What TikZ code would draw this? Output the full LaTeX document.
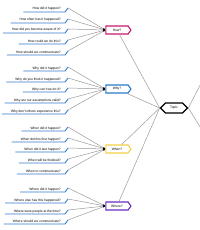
\documentclass[tikz,border=0pt]{standalone}
\usepackage{fontspec}
\setmainfont{Liberation Sans}
\usetikzlibrary{arrows.meta,calc,shapes.symbols}
\definecolor{ulblue}{HTML}{2F7BD0}
\definecolor{howred}{HTML}{C8196E}
\definecolor{whyblue}{HTML}{2A78C8}
\definecolor{whenyellow}{HTML}{F0D247}
\definecolor{wherepurple}{HTML}{6A2DC2}
\definecolor{linegray}{HTML}{9A9A9A}

\begin{document}
\begin{tikzpicture}[
  x=1pt, y=-1pt,
  font=\fontsize{3.3}{4}\selectfont, >=Latex,
  leaf/.style={inner sep=0pt, anchor=base east},
  uline/.style={draw=ulblue, line width=0.9pt},
  fan/.style={draw=linegray, line width=0.5pt,
              -{Latex[black,length=2.2pt,width=2pt]}},
  link/.style={draw=linegray, line width=0.5pt},
  cat/.style={signal, signal to=east, signal pointer angle=110,
              draw=#1, line width=1.1pt, fill=white,
              minimum width=25pt, minimum height=8pt, inner sep=0pt},
  topicbox/.style={signal, signal to=east and west, signal pointer angle=90,
              draw=black, line width=1.2pt, fill=white,
              minimum width=27pt, minimum height=10pt, inner sep=0pt}]
\useasboundingbox (0,0) rectangle (200,230);
% categories and topic
\node[cat=howred]      (how)   at (117,30)  {How?};
\node[cat=whyblue]     (why)   at (117,89)  {Why?};
\node[cat=whenyellow]  (when)  at (117,149) {When?};
\node[cat=wherepurple] (where) at (117,206) {Where?};
\node[topicbox] (topic) at (174,108) {Topic};
\coordinate (up)   at (210,66);
\coordinate (down) at (210,143);
% questions
\node[leaf] (h1) at (61,10)  {How did it happen?};
\node[leaf] (h2) at (61,21)  {How often has it happened?};
\node[leaf] (h3) at (61,31)  {How did you become aware of it?};
\node[leaf] (h4) at (61,42)  {How could we do this?};
\node[leaf] (h5) at (61,53)  {How should we communicate?};
\node[leaf] (y1) at (61,69)  {Why did it happen?};
\node[leaf] (y2) at (61,80)  {Why do you think it happened?};
\node[leaf] (y3) at (61,90)  {Why can't we do it?};
\node[leaf] (y4) at (61,101) {Why are our assumptions valid?};
\node[leaf] (y5) at (61,112) {Why don't others experience this?};
\node[leaf] (n1) at (61,129) {When did it happen?};
\node[leaf] (n2) at (61,140) {When did this first happen?};
\node[leaf] (n3) at (61,150) {When did it last happen?};
\node[leaf] (n4) at (61,161) {When will be finished?};
\node[leaf] (n5) at (61,172) {When to communicate?};
\node[leaf] (w1) at (61,190) {Where did it happen?};
\node[leaf] (w2) at (61,201) {Where else has this happened?};
\node[leaf] (w3) at (61,212) {Where were people at the time?};
\node[leaf] (w4) at (61,222) {Where should we communicate?};
% underlines and fans
\foreach \l/\c in {h1/how,h2/how,h3/how,h4/how,h5/how,
                   y1/why,y2/why,y3/why,y4/why,y5/why,
                   n1/when,n2/when,n3/when,n4/when,n5/when,
                   w1/where,w2/where,w3/where,w4/where} {
  \draw[uline] ($(\l.base west)+(-9,2)$) -- ($(\l.base east)+(4,2)$)
    -- ++(3,-4) coordinate (\l-e);
  \draw[fan] (\l-e) -- (\c.west);
}
\path[link]
  (how)   edge (topic.west)
  (why)   edge (topic.west)
  (when)  edge (topic.west)
  (where) edge (topic.west)
  (topic.east) edge (up)
  (topic.east) edge (down);
\end{tikzpicture}
\end{document}
